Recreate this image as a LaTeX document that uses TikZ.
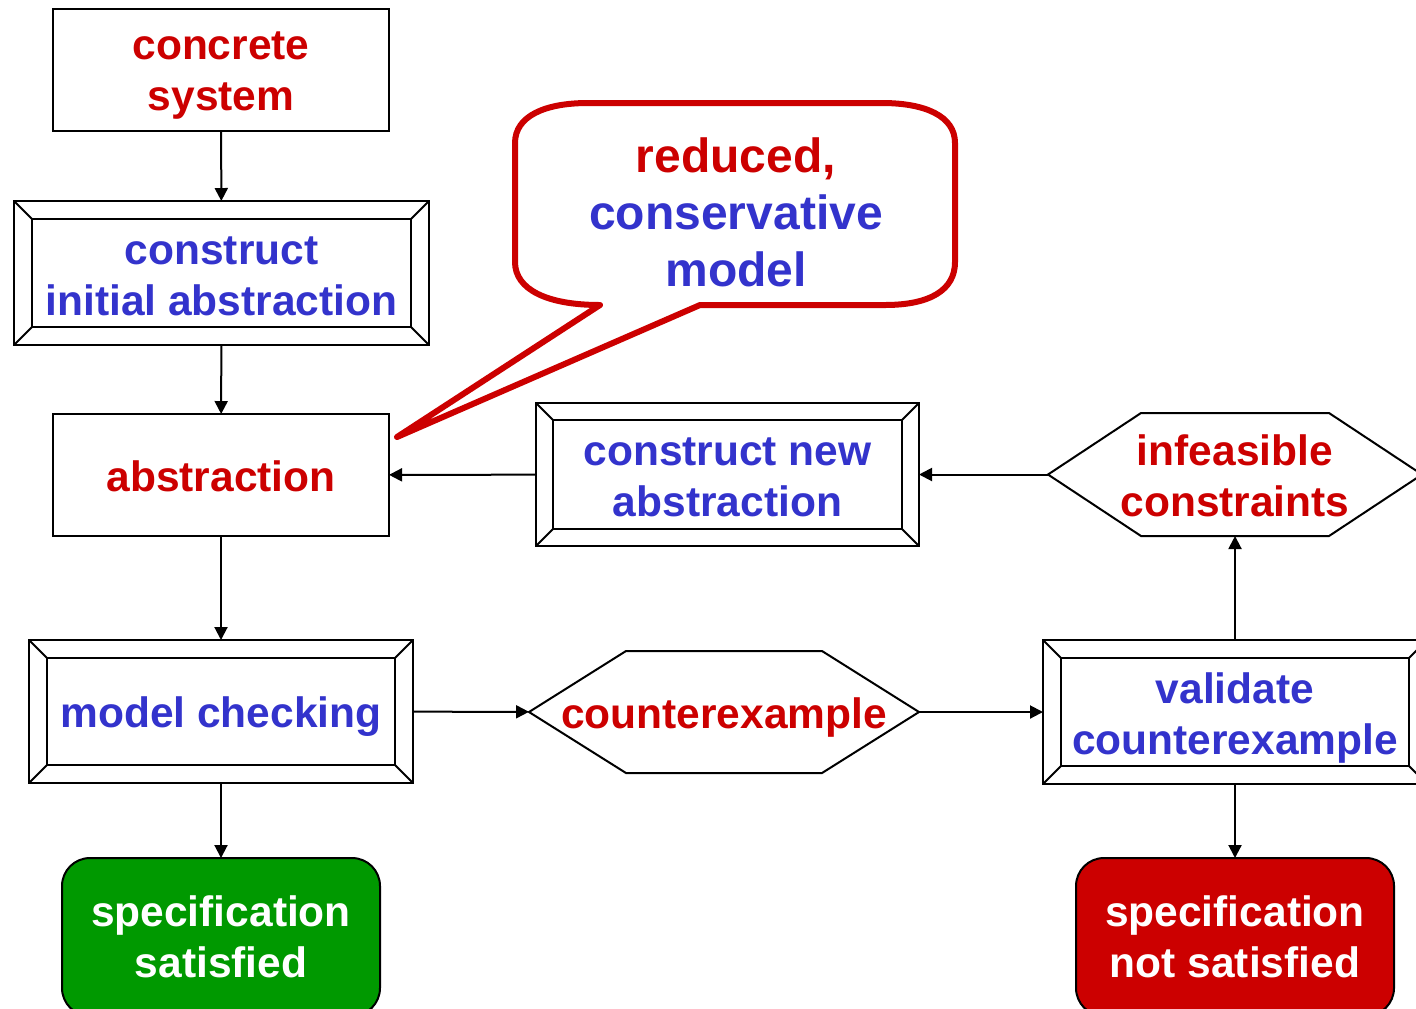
\documentclass[tikz,border=0pt]{standalone}
\usepackage{fontspec}
\setmainfont{Liberation Sans}
\usetikzlibrary{arrows.meta}

\definecolor{txtblue}{RGB}{51,51,204}
\definecolor{txtred}{RGB}{204,0,0}
\definecolor{okgreen}{RGB}{0,153,0}
\definecolor{badred}{RGB}{204,0,0}

\tikzset{
  label font/.style={font=\bfseries\fontsize{21.25}{25.5}\selectfont},
  box/.style={draw, line width=1pt, inner sep=0pt, outer sep=0pt,
    align=center, label font},
  hexbox/.style={inner sep=0pt, outer sep=0pt, align=center, label font},
  result/.style={box, rounded corners=14pt, text=white},
  % fixed text boxes so that the lines sit like in a slide layout
  oneline/.style={text height=16pt, text depth=0pt},
  twolines/.style={text height=42pt, text depth=0pt},
  flow/.style={line width=1pt, -{Triangle[length=6.5pt,width=6.5pt]}},
  frame/.style={line width=1pt},
  callout/.style={line width=3pt, draw=txtred, line join=round, fill=white},
}

% inner rectangle and corner bevels of a framed step box
\newcommand\bevelframe[2][9pt]{%
  \draw[frame] ([xshift=#1,yshift=-#1]#2.north west) rectangle
               ([xshift=-#1,yshift=#1]#2.south east);
  \draw[frame] (#2.north west) -- ++(#1,-#1);
  \draw[frame] (#2.north east) -- ++(-#1,-#1);
  \draw[frame] (#2.south west) -- ++(#1,#1);
  \draw[frame] (#2.south east) -- ++(-#1,#1);
}

% elongated hexagon around a decision node
\newcommand\hexframe[2]{%
  \draw[frame] (#2.west) -- ([xshift=#1]#2.north west)
    -- ([xshift=-#1]#2.north east) -- (#2.east)
    -- ([xshift=-#1]#2.south east) -- ([xshift=#1]#2.south west) -- cycle;
}

\begin{document}
\begin{tikzpicture}[x=0.5pt, y=-0.5pt]
  \useasboundingbox (0,0) rectangle (1416,1008);
  \clip (0,0) rectangle (1416,1008);

  % left column
  \node[box, twolines, text height=40pt, text=txtred,
        minimum width=168pt, minimum height=61pt]
    (concrete) at (221,70) {concrete\\system};
  \node[box, twolines, text=txtblue, minimum width=207.5pt, minimum height=72pt]
    (init) at (221.5,273) {construct\\initial abstraction};
  \node[box, oneline, text=txtred, minimum width=168pt, minimum height=61pt]
    (abs) at (221,475) {abstraction};
  \node[box, oneline, text=txtblue, minimum width=192pt, minimum height=71.5pt]
    (check) at (221,711.5) {model checking};
  \node[result, twolines, text height=40pt, fill=okgreen,
        minimum width=159pt, minimum height=79pt]
    (sat) at (221,937) {specification\\satisfied};

  % middle column
  \node[box, twolines, text=txtblue, minimum width=191.5pt, minimum height=71.5pt]
    (newabs) at (727.5,474.5) {construct new\\abstraction};
  \node[hexbox, oneline, text=txtred, minimum width=195pt, minimum height=61pt]
    (cex) at (724,712) {counterexample};

  % right column
  \node[hexbox, twolines, text=txtred, minimum width=187pt, minimum height=61.5pt]
    (infeas) at (1235,474.5) {infeasible\\constraints};
  \node[box, twolines, text=txtblue, minimum width=192pt, minimum height=72pt]
    (valid) at (1235,712) {validate\\counterexample};
  \node[result, twolines, text height=40pt, fill=badred,
        minimum width=159pt, minimum height=79pt]
    (notsat) at (1235,937) {specification\\not satisfied};

  \bevelframe{init}
  \bevelframe[8.5pt]{newabs}
  \bevelframe{check}
  \bevelframe{valid}
  \hexframe{48.5pt}{cex}
  \hexframe{46.5pt}{infeas}

  % control flow
  \draw[flow] (concrete) -- (init);
  \draw[flow] (init) -- (abs);
  \draw[flow] (abs) -- (check);
  \draw[flow] (check) -- (sat);
  \draw[flow] (check) -- (cex);
  \draw[flow] (cex) -- (valid);
  \draw[flow] (valid) -- (notsat);
  \draw[flow] (valid) -- (infeas);
  \draw[flow] (infeas) -- (newabs);
  \draw[flow] (newabs) -- (abs);

  % speech bubble pointing at the abstraction
  \coordinate (tip) at (397,437);
  \draw[callout] (600,305) -- (tip) -- (700,305) -- (885,305)
    .. controls (930,305) and (955,290) .. (955,262) -- (955,143)
    .. controls (955,116) and (925,103) .. (882,103) -- (588,103)
    .. controls (545,103) and (515,116) .. (515,143) -- (515,262)
    .. controls (515,290) and (548,305) .. (600,305) -- cycle;
  \node[align=center, font=\bfseries\fontsize{24}{28.5}\selectfont]
    (bubble) at (736,212)
    {\textcolor{txtred}{reduced,}\\
     \textcolor{txtblue}{conservative}\\
     \textcolor{txtblue}{model}};
\end{tikzpicture}
\end{document}
